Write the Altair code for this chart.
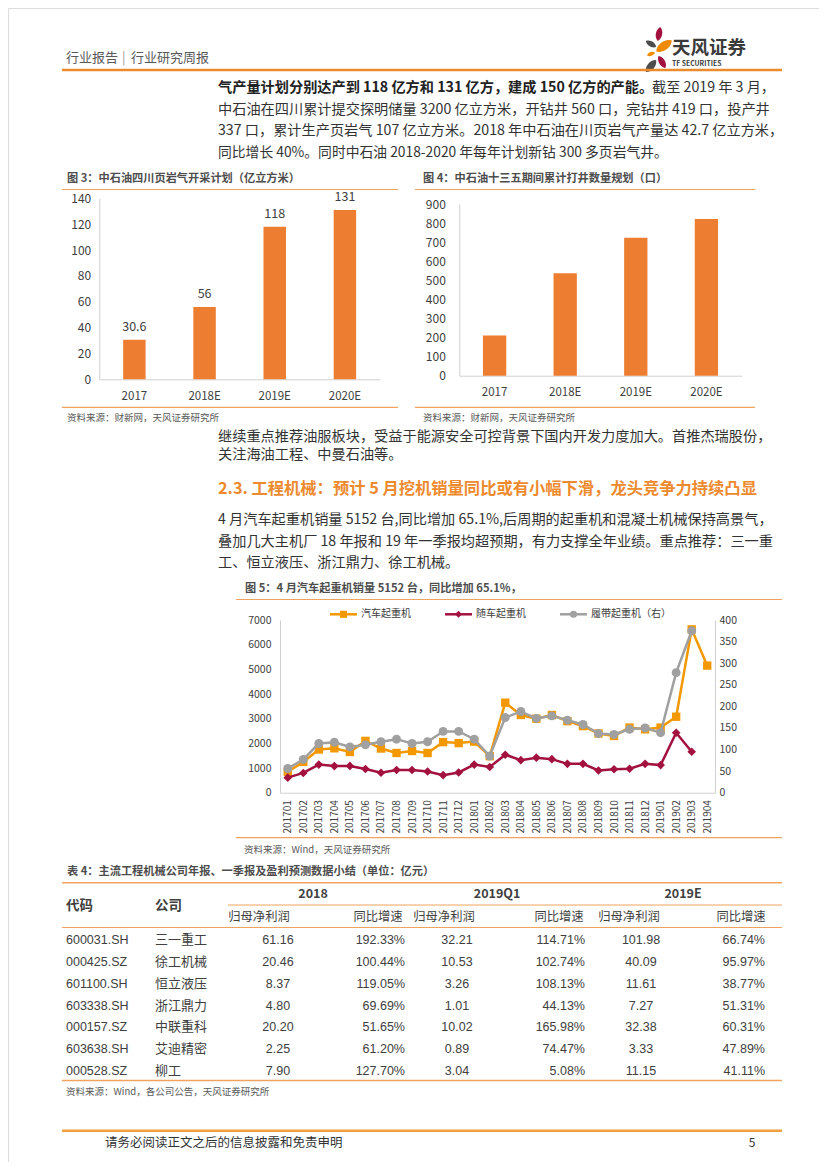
import altair as alt
import pandas as pd

FONT = "Noto Sans CJK SC"
NARROW = "Liberation Sans Narrow, Liberation Sans, sans-serif"
HEAD_OR = "#EE8A2E"
LINE_OR = "#F0A35E"
BAR = "#ED7D31"
TXT = "#333333"
GRAY_T = "#595959"
AX = "#D0D0D0"
W, H = 811, 1154

# ---------------- data ----------------
fig3_cats = ["2017", "2018E", "2019E", "2020E"]
fig3_vals = [30.6, 56, 118, 131]
fig4_cats = ["2017", "2018E", "2019E", "2020E"]
fig4_vals = [211, 537, 723, 822]

months = ["201701", "201702", "201703", "201704", "201705", "201706", "201707",
          "201708", "201709", "201710", "201711", "201712", "201801", "201802",
          "201803", "201804", "201805", "201806", "201807", "201808", "201809",
          "201810", "201811", "201812", "201901", "201902", "201903", "201904"]
truck = [850, 1250, 1750, 1800, 1650, 2100, 1790, 1610, 1690, 1610, 2050, 2010, 2070, 1480,
         3650, 3150, 3000, 3150, 2900, 2700, 2400, 2300, 2640, 2570, 2640, 3080, 6620, 5152]
mounted = [610, 800, 1140, 1080, 1085, 960, 810, 920, 920, 860, 710, 820, 1140, 1040,
           1540, 1320, 1420, 1360, 1170, 1170, 900, 950, 970, 1170, 1120, 2430, 1660]
crawler = [56, 77, 114, 117, 106, 111, 118, 124, 114, 118, 142, 142, 124, 85,
           174, 188, 172, 178, 168, 158, 137, 135, 147, 150, 139, 278, 375]
series_names = ["汽车起重机", "随车起重机", "履带起重机（右）"]

codes = ["600031.SH", "000425.SZ", "601100.SH", "603338.SH", "000157.SZ", "603638.SH", "000528.SZ"]
names = ["三一重工", "徐工机械", "恒立液压", "浙江鼎力", "中联重科", "艾迪精密", "柳工"]
p2018 = [61.16, 20.46, 8.37, 4.80, 20.20, 2.25, 7.90]
g2018 = [192.33, 100.44, 119.05, 69.69, 51.65, 61.20, 127.70]
pq1 = [32.21, 10.53, 3.26, 1.01, 10.02, 0.89, 3.04]
gq1 = [114.71, 102.74, 108.13, 44.13, 165.98, 74.47, 5.08]
p19e = [101.98, 40.09, 11.61, 7.27, 32.38, 3.33, 11.15]
g19e = [66.74, 95.97, 38.77, 51.31, 60.31, 47.89, 41.11]
group_heads = ["2018", "2019Q1", "2019E"]
sub_heads = ["归母净利润", "同比增速"]

header_left = ["行业报告", "|", "行业研究周报"]
logo_cn = "天风证券"
logo_en = "TF SECURITIES"
para1_bold = "气产量计划分别达产到 118 亿方和 131 亿方，建成 150 亿方的产能。"
para1 = ["截至 2019 年 3 月，",
         "中石油在四川累计提交探明储量 3200 亿立方米，开钻井 560 口，完钻井 419 口，投产井",
         "337 口，累计生产页岩气 107 亿立方米。2018 年中石油在川页岩气产量达 42.7 亿立方米，",
         "同比增长 40%。同时中石油 2018-2020 年每年计划新钻 300 多页岩气井。"]
fig3_title = "图 3：中石油四川页岩气开采计划（亿立方米）"
fig4_title = "图 4：中石油十三五期间累计打井数量规划（口）"
src_caixin = "资料来源：财新网，天风证券研究所"
para2 = ["继续重点推荐油服板块，受益于能源安全可控背景下国内开发力度加大。首推杰瑞股份，",
         "关注海油工程、中曼石油等。"]
heading = "2.3. 工程机械：预计 5 月挖机销量同比或有小幅下滑，龙头竞争力持续凸显"
para3 = ["4 月汽车起重机销量 5152 台,同比增加 65.1%,后周期的起重机和混凝土机械保持高景气，",
         "叠加几大主机厂 18 年报和 19 年一季报均超预期，有力支撑全年业绩。重点推荐：三一重",
         "工、恒立液压、浙江鼎力、徐工机械。"]
fig5_title = "图 5：4 月汽车起重机销量 5152 台，同比增加 65.1%，"
src_wind = "资料来源：Wind，天风证券研究所"
table_title = "表 4：主流工程机械公司年报、一季报及盈利预测数据小结（单位：亿元）"
table_heads = ["代码", "公司"]
src_table = "资料来源：Wind，各公司公告，天风证券研究所"
footer = "请务必阅读正文之后的信息披露和免责申明"
page_no = "5"

one = alt.Data(values=[{"a": 1}])


def T(x, y, s, size=14.2, color=TXT, weight="normal", align="left", font=FONT):
    return alt.Chart(one).mark_text(text=s, fontSize=size, color=color, fontWeight=weight,
                                    align=align, baseline="middle", font=font).encode(
        x=alt.value(x - 8), y=alt.value(y - 8))


def HL(x1, x2, y, color=LINE_OR, w=1.2):
    return alt.Chart(one).mark_rule(color=color, strokeWidth=w).encode(
        x=alt.value(x1 - 8), x2=alt.value(x2 - 8), y=alt.value(y - 8))


def PT(x, y, shape, size, color, angle=0):
    return alt.Chart(one).mark_point(shape=shape, size=size, color=color, filled=True,
                                     opacity=1, angle=angle).encode(
        x=alt.value(x - 8), y=alt.value(y - 8))


LEAF = "M0,-1C0.6,-0.55 0.6,0.55 0,1C-0.6,0.55 -0.6,-0.55 0,-1Z"

# ---------------- page text / rules ----------------
el = []
el += [T(66, 58, header_left[0], 13, GRAY_T), T(122, 58, header_left[1], 13, "#9a9a9a"),
       T(131, 58, header_left[2], 13, GRAY_T)]
# logo
el += [PT(659, 34, LEAF, 200, "#A3123F", 10), PT(651, 44, LEAF, 140, "#4D4D4D", 120),
       PT(664, 46, LEAF, 360, "#F08A00", 55), PT(651, 54, LEAF, 70, "#F08A00", 70),
       PT(662, 62, LEAF, 190, "#A3123F", 150), PT(651, 66, LEAF, 250, "#4D4D4D", 40)]
el += [T(672, 48, logo_cn, 18.5, "#3a3a3a", "bold"), T(672, 64, logo_en, 6.8, "#3a3a3a", "bold")]
el += [HL(62, 782, 70, HEAD_OR, 2.5)]
# paragraph 1
el += [T(218, 88, para1_bold, 14.2, "#222222", "bold"), T(652, 88, para1[0], 14.2)]
for i, ln in enumerate(para1[1:]):
    el.append(T(218, 109.5 + 21.5 * i, ln, 14.2 if i < 2 else 13.8))
# fig3 / fig4 frames
el += [T(67, 179, fig3_title, 11.2, "#4D4D4D", "bold"), HL(62, 398, 189.5), HL(62, 398, 407.3),
       T(67, 418.3, src_caixin, 9.5, GRAY_T)]
el += [T(423, 179, fig4_title, 11.2, "#4D4D4D", "bold"), HL(415, 755, 189.5), HL(415, 755, 407.3),
       T(423, 418.3, src_caixin, 9.5, GRAY_T)]
# paragraph 2, heading, paragraph 3
el += [T(218, 436.5, para2[0]), T(218, 455, para2[1])]
el += [T(218, 489, heading, 16.3, HEAD_OR, "bold")]
for i, ln in enumerate(para3):
    el.append(T(218, 520 + 21.7 * i, ln))
# fig5 frame + legend
el += [T(245, 588.5, fig5_title, 11.2, "#4D4D4D", "bold"), HL(236, 782, 599.5), HL(236, 782, 837.7),
       T(244, 850, src_wind, 9.5, GRAY_T)]
leg_cols = ["#F39800", "#A3123F", "#A0A0A0"]
leg_shapes = ["square", "diamond", "circle"]
for i, x0 in enumerate([330, 445, 560]):
    el += [HL(x0, x0 + 27, 614.3, leg_cols[i], 2.5), PT(x0 + 13.5, 614.3, leg_shapes[i], 50, leg_cols[i]),
           T(x0 + 31, 614.3, series_names[i], 10, "#404040")]
# table frame
el += [T(67, 871.5, table_title, 11.2, "#4D4D4D", "bold"), HL(62, 782, 882.7, LINE_OR, 1.5),
       HL(228, 782, 905, LINE_OR, 1), HL(62, 782, 927.5, LINE_OR, 1), HL(62, 782, 1080.5, LINE_OR, 1.5)]
el += [T(66, 906, table_heads[0], 13.5, "#404040", "bold"), T(155, 906, table_heads[1], 13.5, "#404040", "bold")]
for g, xc in zip(group_heads, [313, 497, 683]):
    el.append(T(xc, 894.3, g, 12.5, "#404040", "bold", "center"))
for j, xc in enumerate([259, 378, 444, 559, 629, 741]):
    el.append(T(xc, 916.5, sub_heads[j % 2], 12.3, "#404040", "normal", "center"))
el += [T(66, 1091.7, src_table, 9.5, GRAY_T)]
# footer
el += [HL(62, 782, 1130.7, "#F0A040", 2.5), T(105, 1143.3, footer, 12.5, "#333333"),
       T(752, 1143.3, page_no, 12, "#333333", "normal", "center")]


def L(p):  # page coordinate -> chart coordinate
    return p - 8


# ---------------- fig 3 ----------------
df3 = pd.DataFrame({"cat": fig3_cats, "val": fig3_vals, "lab": [f"{v:g}" for v in fig3_vals]})
base3 = alt.Chart(df3).encode(
    x=alt.X("cat:N", sort=fig3_cats,
            scale=alt.Scale(range=[L(99.3), L(380)], paddingInner=0.68, paddingOuter=0.34),
            axis=alt.Axis(title=None, orient="bottom", offset=-(H - L(379.3)), labelAngle=0,
                          labelFontSize=11.5, labelColor="#404040", labelPadding=11, ticks=False,
                          domainColor=AX)),
    y=alt.Y("val:Q", scale=alt.Scale(domain=[0, 140], nice=False, range=[L(379.3), L(198.3)]),
            axis=alt.Axis(title=None, orient="left", offset=-L(99.3), values=list(range(0, 141, 20)),
                          grid=False, ticks=False, labelPadding=8.6, labelFontSize=12,
                          labelColor="#404040", domainColor=AX)))
fig3 = alt.layer(base3.mark_bar(color=BAR),
                 base3.mark_text(dy=-13, fontSize=12.5, color="#404040").encode(text="lab:N"))

# ---------------- fig 4 ----------------
df4 = pd.DataFrame({"cat": fig4_cats, "val": fig4_vals})
fig4 = alt.Chart(df4).mark_bar(color=BAR).encode(
    x=alt.X("cat:N", sort=fig4_cats,
            scale=alt.Scale(range=[L(459.3), L(741.7)], paddingInner=0.67, paddingOuter=0.335),
            axis=alt.Axis(title=None, orient="bottom", offset=-(H - L(375.7)), labelAngle=0,
                          labelFontSize=11.5, labelColor="#404040", labelPadding=11, ticks=False,
                          domainColor=AX)),
    y=alt.Y("val:Q", scale=alt.Scale(domain=[0, 900], nice=False, range=[L(375.7), L(204)]),
            axis=alt.Axis(title=None, orient="left", offset=-L(459.3), values=list(range(0, 901, 100)),
                          grid=False, ticks=False, labelPadding=14, labelFontSize=12,
                          labelColor="#404040", domainColor=AX)))

# ---------------- fig 5 ----------------
d_truck = pd.DataFrame({"m": months, "v": truck})
d_mount = pd.DataFrame({"m": months[:len(mounted)], "v": mounted})
d_crawl = pd.DataFrame({"m": months[:len(crawler)], "v": crawler})

X5L, X5R, Y5B, Y5T = L(280), L(715), L(792.7), L(620)
xenc = alt.X("m:N", sort=months, scale=alt.Scale(domain=months, padding=0.5, range=[X5L, X5R]),
             axis=alt.Axis(title=None, orient="bottom", offset=-(H - Y5B), labelAngle=270,
                           labelAlign="right", labelBaseline="middle", labelFontSize=10,
                           labelColor="#404040", labelPadding=7, ticks=False, domainColor=AX))
yleft = alt.Y("v:Q", scale=alt.Scale(domain=[0, 7000], nice=False, range=[Y5B, Y5T]),
              axis=alt.Axis(title=None, orient="left", offset=-X5L, values=list(range(0, 7001, 1000)),
                            format="d", grid=False, ticks=False, labelPadding=9, labelFontSize=10.5,
                            labelColor="#404040", domainColor=AX))
yright = alt.Y("v:Q", scale=alt.Scale(domain=[0, 400], nice=False, range=[Y5B, Y5T]),
               axis=alt.Axis(title=None, orient="right", offset=-(W - X5R), values=list(range(0, 401, 50)),
                             grid=False, ticks=False, labelPadding=4, labelFontSize=10.5,
                             labelColor="#404040", domainColor=AX))


def series(df, y, color, shape, size):
    b = alt.Chart(df).encode(x=xenc, y=y)
    return [b.mark_line(color=color, strokeWidth=2.5),
            b.mark_point(shape=shape, filled=True, opacity=1, size=size, color=color)]


left = alt.layer(*(series(d_truck, yleft, "#F39800", "square", 70) +
                   series(d_mount, yleft, "#A3123F", "diamond", 75)))
right = alt.layer(*series(d_crawl, yright, "#A0A0A0", "circle", 80))
fig5 = alt.layer(left, right).resolve_scale(y="independent")

# ---------------- table ----------------
cols = [codes, names,
        [f"{v:.2f}" for v in p2018], [f"{v:.2f}%" for v in g2018],
        [f"{v:.2f}" for v in pq1], [f"{v:.2f}%" for v in gq1],
        [f"{v:.2f}" for v in p19e], [f"{v:.2f}%" for v in g19e]]
kinds = ["L", "N", "C", "R", "C", "R", "C", "R"]
recs = []
for ci, col in enumerate(cols):
    for ri, val in enumerate(col):
        recs.append({"code": codes[ri], "col": ci, "txt": val, "kind": kinds[ci]})
dft = pd.DataFrame(recs)
col_anchor = [66, 155, 278, 405, 457, 585, 641, 765]
tx = alt.X("col:Q", scale=alt.Scale(domain=list(range(8)), range=[L(a) for a in col_anchor],
                                    zero=False, nice=False), axis=None)
ty = alt.Y("code:N", sort=codes, scale=alt.Scale(domain=codes, range=[L(940), L(1071)], padding=0),
           axis=None)
tbase = alt.Chart(dft).encode(x=tx, y=ty, text="txt:N")
table = alt.layer(
    tbase.transform_filter("datum.kind == 'L'").mark_text(align="left", fontSize=12.5, font=NARROW, color="#404040"),
    tbase.transform_filter("datum.kind == 'N'").mark_text(align="left", fontSize=13, font=FONT, color="#404040"),
    tbase.transform_filter("datum.kind == 'C'").mark_text(align="center", fontSize=12.5, font=NARROW, color="#404040"),
    tbase.transform_filter("datum.kind == 'R'").mark_text(align="right", fontSize=12.5, font=NARROW, color="#404040"),
)

chart = alt.layer(*el, fig3, fig4, fig5, table).resolve_scale(
    x="independent", y="independent").properties(
    width=W, height=H, padding=0).configure_view(strokeWidth=0).configure(font=FONT)

chart.save("out.html", embed_options={"renderer": "svg", "actions": False})
